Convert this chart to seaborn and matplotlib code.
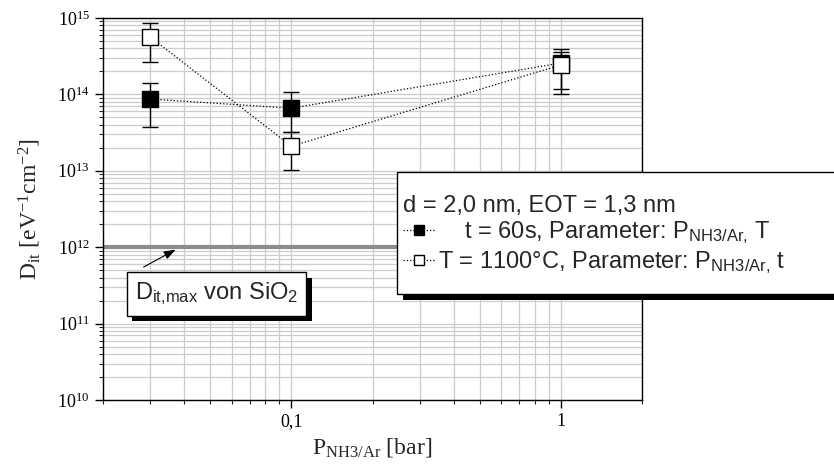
import matplotlib
matplotlib.use('Agg')
import matplotlib.pyplot as plt
import matplotlib.ticker as mticker
import matplotlib.patheffects as pe
import numpy as np
import seaborn as sns

# values
p_nh3 = [0.03, 0.1, 1.0]
dit_60s = [8.7e13, 6.6e13, 2.57e14]
dit_60s_hi = [1.4e14, 1.07e14, 3.9e14]
dit_60s_lo = [3.7e13, 3.2e13, 1.18e14]
dit_1100 = [5.6e14, 2.1e13, 2.43e14]
dit_1100_hi = [8.6e14, 3.2e13, 3.6e14]
dit_1100_lo = [2.65e14, 1.02e13, 1.0e14]
dit_max_sio2 = 1e12

x_ticks = [0.1, 1]
x_ticklabels = ['0,1', '1']
legend_title = 'd = 2,0 nm, EOT = 1,3 nm'
label_60s = '    t = 60s, Parameter: P$_{NH3/Ar{,}}$ T'
label_1100 = 'T = 1100°C, Parameter: P$_{NH3/Ar{,}}$ t'
note_text = 'D$_{it{,}max}$ von SiO$_2$'

sns.set_style('ticks')
plt.rcParams['font.family'] = ['Liberation Serif', 'DejaVu Serif']
plt.rcParams['mathtext.default'] = 'regular'
sans = {'family': ['Liberation Sans', 'DejaVu Sans'], 'size': 17}

fig, ax = plt.subplots(figsize=(8.34, 4.72), dpi=100)
fig.subplots_adjust(left=0.1235, right=0.7698, bottom=0.1525, top=0.9619)

# gray reference line for SiO2
ax.axhline(dit_max_sio2, color='#8c8c8c', lw=3, zorder=2)

# error bars
ax.errorbar(p_nh3, dit_60s, yerr=[np.array(dit_60s) - dit_60s_lo, np.array(dit_60s_hi) - dit_60s],
            fmt='none', ecolor='k', elinewidth=1, capsize=6, capthick=1, zorder=3)
ax.errorbar(p_nh3, dit_1100, yerr=[np.array(dit_1100) - dit_1100_lo, np.array(dit_1100_hi) - dit_1100],
            fmt='none', ecolor='k', elinewidth=1, capsize=6, capthick=1, zorder=3)

# dotted lines with markers
sns.lineplot(x=p_nh3, y=dit_60s, ax=ax, color='k', lw=0.9, ls=':', marker='s', ms=11,
             mfc='k', mec='k', mew=1, sort=False, label=label_60s, zorder=4)
sns.lineplot(x=p_nh3, y=dit_1100, ax=ax, color='k', lw=0.9, ls=':', marker='s', ms=11,
             mfc='white', mec='k', mew=1, sort=False, label=label_1100, zorder=5)
handles, labels = ax.get_legend_handles_labels()
if ax.get_legend() is not None:
    ax.get_legend().remove()

ax.set_xscale('log')
ax.set_yscale('log')
ax.set_xlim(0.02, 2)
ax.set_ylim(1e10, 1e15)

ax.xaxis.set_major_locator(mticker.FixedLocator(x_ticks))
ax.xaxis.set_major_formatter(mticker.FixedFormatter(x_ticklabels))
ax.xaxis.set_minor_locator(mticker.LogLocator(base=10, subs=np.arange(2, 10)))
ax.xaxis.set_minor_formatter(mticker.NullFormatter())
ax.yaxis.set_major_locator(mticker.LogLocator(base=10, numticks=10))
ax.yaxis.set_major_formatter(mticker.LogFormatterMathtext())
ax.yaxis.set_minor_locator(mticker.LogLocator(base=10, subs=np.arange(2, 10), numticks=20))
ax.yaxis.set_minor_formatter(mticker.NullFormatter())

ax.grid(which='both', color='#cccccc', lw=0.9, zorder=0)
ax.set_axisbelow(True)
for s in ax.spines.values():
    s.set_color('k')
    s.set_linewidth(1)
ax.tick_params(which='major', direction='out', length=6, width=1, labelsize=13, colors='k')
ax.tick_params(which='minor', direction='out', length=3, width=0.8)

ax.set_xlabel('P$_{NH3/Ar}$ [bar]', fontsize=17, labelpad=4)
ax.set_ylabel('D$_{it}$ [eV$^{-1}$cm$^{-2}$]', fontsize=17, labelpad=10)

# arrow pointing at the SiO2 line
ax.annotate('', xy=(0.0372, 0.93e12), xytext=(0.0283, 5.5e11),
            arrowprops=dict(arrowstyle='-|>,head_length=0.7,head_width=0.25', color='k', lw=0.8,
                            shrinkA=0, shrinkB=0), zorder=6)
# annotation box
note = ax.text(0.0527, 2.44e11, note_text, ha='center', va='center', fontproperties=sans, zorder=6,
               bbox=dict(boxstyle='square,pad=0.35', fc='white', ec='k', lw=1))
note.get_bbox_patch().set_path_effects([pe.SimplePatchShadow(offset=(4, -4), shadow_rgbFace='k', alpha=1),
                                        pe.Normal()])

# legend box with shadow, extends past the figure edge
frame = plt.Rectangle((397 / 834, (472 - 294) / 472), 0.6, 122 / 472, transform=fig.transFigure,
                      fc='white', ec='k', lw=1, zorder=4,
                      path_effects=[pe.SimplePatchShadow(offset=(4, -4), shadow_rgbFace='k', alpha=1),
                                    pe.Normal()])
fig.add_artist(frame)
fig.legend(handles, labels, title=legend_title, loc='upper left',
           bbox_to_anchor=(386 / 834, (472 - 178) / 472), bbox_transform=fig.transFigure,
           prop=sans, title_fontproperties=sans, alignment='left', frameon=False,
           handlelength=1.4, handletextpad=0.1, borderpad=0.2, labelspacing=0.12, markerscale=0.65)

fig.savefig('out.png', dpi=100)
